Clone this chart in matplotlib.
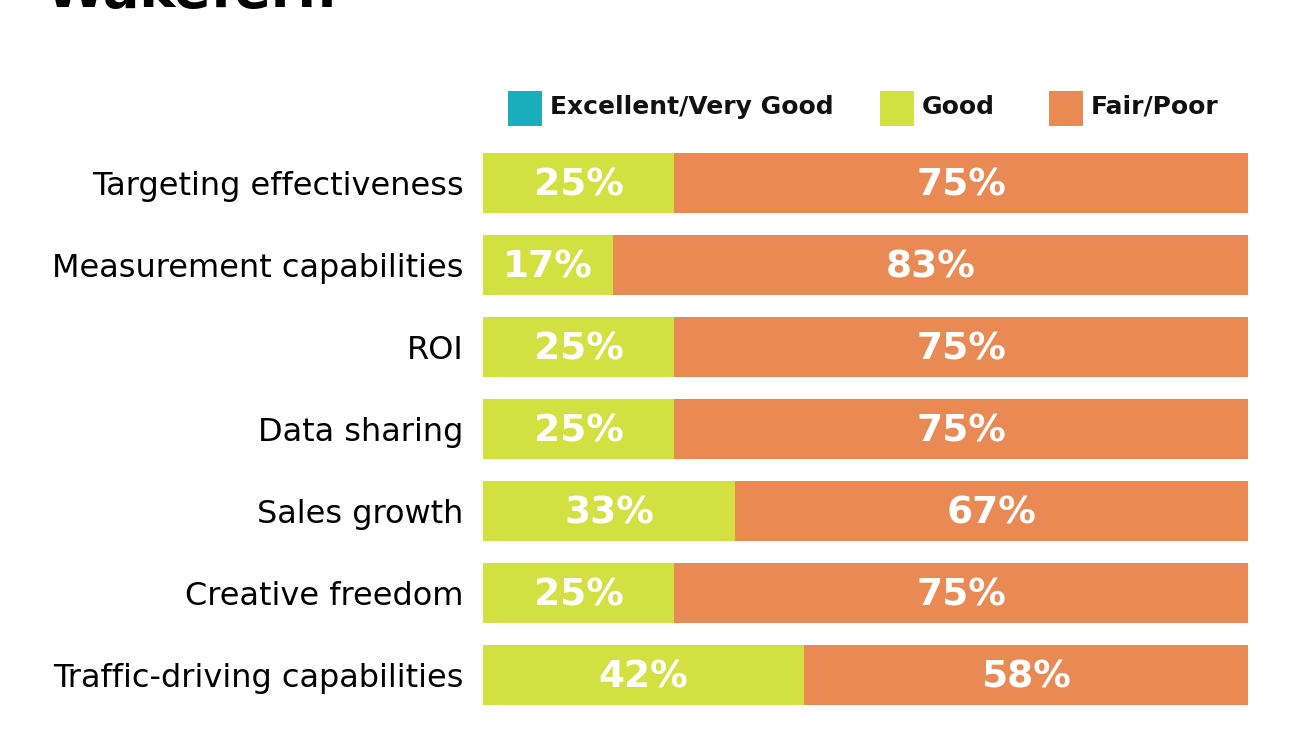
import matplotlib.pyplot as plt
from matplotlib.patches import Rectangle

categories = ["Targeting effectiveness", "Measurement capabilities", "ROI",
              "Data sharing", "Sales growth", "Creative freedom",
              "Traffic-driving capabilities"]
excellent = [0, 0, 0, 0, 0, 0, 0]
good = [25, 17, 25, 25, 33, 25, 42]
fair_poor = [75, 83, 75, 75, 67, 75, 58]
series_names = ["Excellent/Very Good", "Good", "Fair/Poor"]

colors = ["#1aadbb", "#d3e042", "#e98a54"]

fig = plt.figure(figsize=(13, 7.32), dpi=100)
ax = fig.add_axes([0.3715, 0.022, 0.5885, 0.784])

y = list(range(len(categories)))
left = [0] * len(categories)
for vals, col in zip([excellent, good, fair_poor], colors):
    ax.barh(y, vals, left=left, height=0.73, color=col, edgecolor="none")
    for yi, l, v in zip(y, left, vals):
        if v > 0:
            ax.text(l + v / 2, yi + 0.03, f"{v}%", ha="center", va="center",
                    color="white", fontsize=27, fontweight="bold")
    left = [a + b for a, b in zip(left, vals)]

ax.set_xlim(0, 100)
ax.set_ylim(len(categories) - 0.5, -0.5)
ax.set_yticks(y)
ax.set_yticklabels(categories, fontsize=23)
ax.tick_params(axis="y", length=0, pad=14)
ax.set_xticks([])
for s in ax.spines.values():
    s.set_visible(False)

# legend row
W, H = 1300, 732
leg_items = [(508, series_names[0]), (880, series_names[1]), (1049, series_names[2])]
for (x0, name), col in zip(leg_items, colors):
    fig.add_artist(Rectangle((x0 / W, 1 - 126 / H), 34 / W, 35 / H,
                             transform=fig.transFigure, color=col, lw=0))
    fig.text((x0 + 42) / W, 1 - 107 / H, name, fontsize=18, fontweight="bold",
             va="center", ha="left", color="#111111")

# title, cut off at the top edge as in the source image
fig.text(45 / W, 1 - 7 / H, "Wakefern", fontsize=39, fontweight="bold",
         va="baseline", ha="left", color="black")

fig.savefig("out.png", dpi=100)
